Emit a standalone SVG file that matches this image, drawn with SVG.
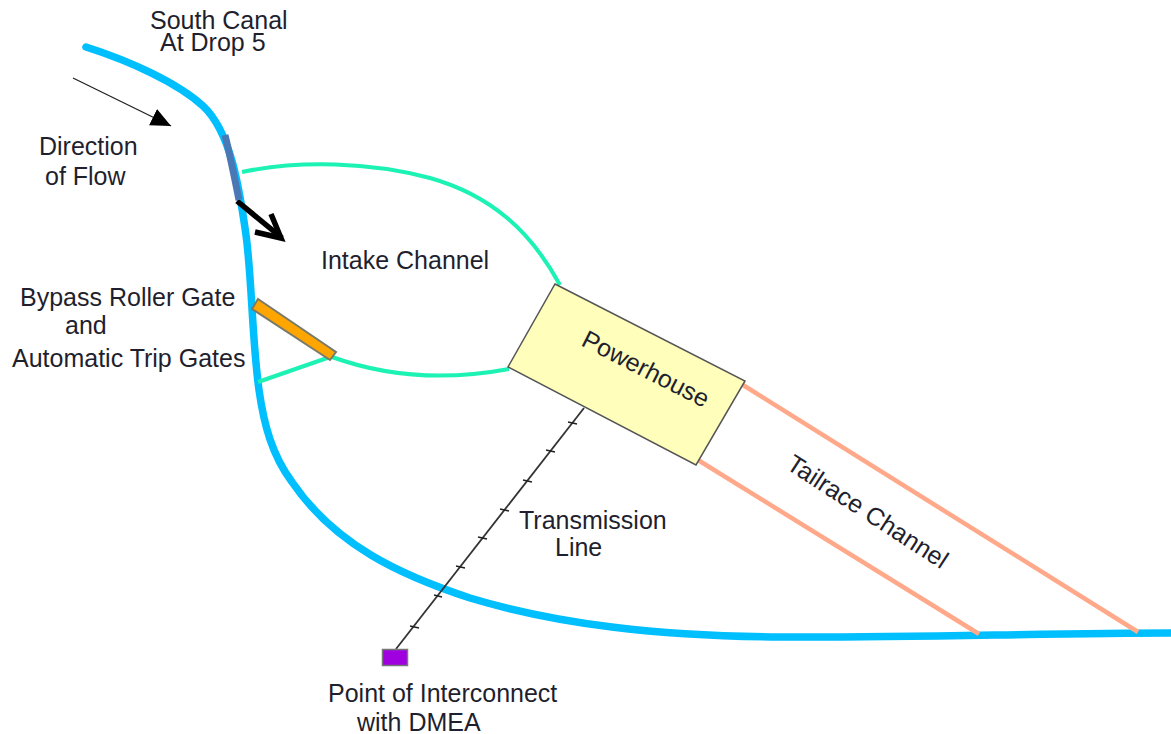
<svg xmlns="http://www.w3.org/2000/svg" width="1171" height="734" viewBox="0 0 1171 734">
<style>
text{font-family:"Liberation Sans",Arial,sans-serif;font-size:25px;fill:#1f1f2e}
.canal{fill:none;stroke:#00bfff;stroke-width:7.5;stroke-linecap:round}
.intake{fill:none;stroke:#1cf2b4;stroke-width:4}
.tail{fill:none;stroke:#ffa98a;stroke-width:4.5}
.tick{stroke:#222;stroke-width:1.5}
</style>
<defs>
<marker id="tri" markerUnits="userSpaceOnUse" markerWidth="24" markerHeight="20" refX="20" refY="9" orient="auto"><path d="M0 0L20 9L0 18Z" fill="#000"/></marker>
</defs>
<g id="connectors">
<path id="canal" class="canal" d="M86 47C130 61 178 83 203 106C230 131 239 185 246 235C252 280 252 340 259 390C264 425 272 455 292 482C335 545 400 575 470 598C560 625 660 636 780 637C900 638 1050 633 1171 633"/>
<path class="intake" d="M242 172C300 160 370 162 430 178C490 195 530 230 560 285"/>
<path class="intake" d="M332 357C390 378 450 380 509 369"/>
<path class="intake" d="M258 382L330 357"/>
<path class="tail" d="M743 385L1138 632"/>
<path class="tail" d="M698 460L979 634"/>
<line x1="73" y1="78" x2="171" y2="126" stroke="#222" stroke-width="1.300" marker-end="url(#tri)"/>
<line x1="396" y1="649" x2="584" y2="408" stroke="#333" stroke-width="1.800"/>
<g class="tick">
<line x1="410" y1="626" x2="419" y2="628"/><line x1="434" y1="595" x2="442" y2="597"/><line x1="456" y1="566" x2="465" y2="568"/><line x1="478" y1="537" x2="487" y2="539"/><line x1="500" y1="509" x2="509" y2="511"/><line x1="523" y1="480" x2="532" y2="482"/><line x1="546" y1="450" x2="555" y2="452"/><line x1="568" y1="422" x2="577" y2="424"/>
</g>
<path d="M237 201L282 238" stroke="#000" stroke-width="5.500" fill="none"/>
<path d="M255 232L281 238L271 214" stroke="#000" stroke-width="5.500" fill="none"/>
</g>
<g id="headgate"><path d="M225 135C230 155 235 180 239 200" fill="none" stroke="#4a78b5" stroke-width="7"/></g>
<g id="bypass-gate"><path d="M258 299L336 352L330 360L252 309Z" fill="#ffa500" stroke="#7a7a6a" stroke-width="2"/></g>
<g id="powerhouse"><path d="M555 284L745 381L696 465L508 367Z" fill="#ffffbb" stroke="#555" stroke-width="1.500"/>
<text transform="translate(580 345) rotate(27)" font-size="25.500">Powerhouse</text></g>
<g id="interconnect"><rect x="382.500" y="649.500" width="25" height="16" fill="#a000e0" stroke="#777" stroke-width="1.500"/></g>
<g id="labels">
<text x="150" y="29">South Canal</text>
<text x="160" y="51">At Drop 5</text>
<text x="39" y="155">Direction</text>
<text x="45" y="185">of Flow</text>
<text x="321" y="269">Intake Channel</text>
<text x="20" y="306">Bypass Roller Gate</text>
<text x="65" y="334">and</text>
<text x="12" y="367">Automatic Trip Gates</text>
<text x="519" y="529">Transmission</text>
<text x="555" y="556">Line</text>
<text x="328" y="702">Point of Interconnect</text>
<text x="357" y="731">with DMEA</text>
<text transform="translate(785 468) rotate(33)" font-size="25.500">Tailrace Channel</text>
</g>
</svg>
